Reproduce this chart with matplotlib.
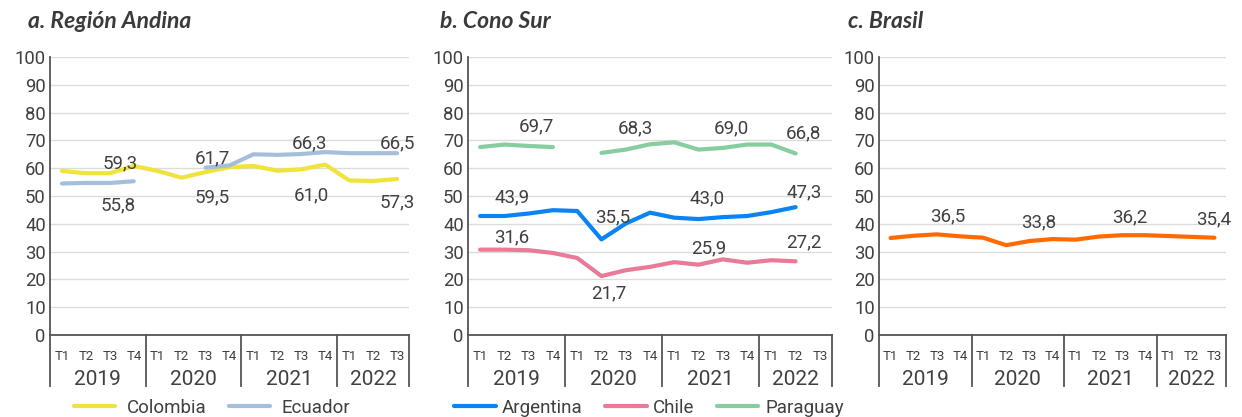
import matplotlib
matplotlib.use('Agg')
import matplotlib.pyplot as plt
import matplotlib.transforms as mtransforms
import numpy as np

# datos
quarters = ['T1', 'T2', 'T3', 'T4'] * 3 + ['T1', 'T2', 'T3']
years = ['2019', '2020', '2021', '2022']
year_len = [4, 4, 4, 3]

nan = np.nan
colombia = [59.0, 58.2, 58.2, 60.8, 59.0, 56.6, 58.6, 60.4, 60.8, 59.1, 59.6, 61.3, 55.6, 55.4, 56.1]
ecuador = [54.5, 54.7, 54.7, 55.3, nan, nan, 60.2, 61.0, 65.0, 64.8, 65.1, 65.8, 65.4, 65.4, 65.4]
argentina = [42.8, 42.8, 43.7, 44.9, 44.6, 34.4, 40.1, 44.0, 42.2, 41.7, 42.4, 42.8, 44.2, 46.0, nan]
chile = [30.7, 30.7, 30.5, 29.5, 27.7, 21.2, 23.3, 24.5, 26.2, 25.3, 27.2, 26.0, 26.9, 26.5, nan]
paraguay = [67.6, 68.5, 68.0, 67.6, nan, 65.5, 66.7, 68.6, 69.3, 66.7, 67.3, 68.5, 68.5, 65.3, nan]
brasil = [34.9, 35.7, 36.2, 35.5, 35.0, 32.3, 33.8, 34.5, 34.3, 35.4, 35.9, 35.9, 35.6, 35.3, 35.0]

# etiquetas anuales
lab_colombia = ['59,3', '59,5', '61,0', '57,3']
lab_ecuador = ['55,8', '61,7', '66,3', '66,5']
lab_argentina = ['43,9', '35,5', '43,0', '47,3']
lab_chile = ['31,6', '21,7', '25,9', '27,2']
lab_paraguay = ['69,7', '68,3', '69,0', '66,8']
lab_brasil = ['36,5', '33,8', '36,2', '35,4']

TXT = '#404040'
plt.rcParams['font.family'] = ['Roboto', 'DejaVu Sans']

fig = plt.figure(figsize=(12.42, 4.17), dpi=100)


def make_axes(left, width):
    ax = fig.add_axes([left / 1242, (417 - 335) / 417, width / 1242, 278 / 417])
    ax.set_xlim(-0.5, 14.5)
    ax.set_ylim(0, 100)
    ax.set_yticks(range(0, 101, 10))
    ax.tick_params(axis='y', length=0, labelsize=13.3, labelcolor=TXT, pad=3)
    ax.set_xticks(range(15))
    ax.set_xticklabels(quarters)
    ax.tick_params(axis='x', length=0, labelsize=9.5, labelcolor=TXT, pad=11)
    ax.grid(axis='y', color='#dcdcdc', lw=1)
    ax.set_axisbelow(True)
    for s in ['top', 'right']:
        ax.spines[s].set_visible(False)
    ax.spines['left'].set_color('#555555')
    ax.spines['left'].set_linewidth(1.3)
    ax.spines['bottom'].set_color('#555555')
    ax.spines['bottom'].set_linewidth(1.3)
    trans = mtransforms.blended_transform_factory(ax.transData, ax.transAxes)
    start = -0.5
    bounds = [start]
    for y, n in zip(years, year_len):
        ax.text(start + n / 2, -0.16, y, transform=trans, ha='center', va='center',
                fontsize=15, color=TXT)
        start += n
        bounds.append(start)
    for b in bounds:
        ax.plot([b, b], [0, -0.185], transform=trans, color='#555555', lw=1.3,
                clip_on=False)
    return ax


def add_labels(ax, labels, pos):
    for t, (x, y) in zip(labels, pos):
        ax.text(x, y, t, ha='center', va='center', fontsize=13.5, color=TXT)


x = np.arange(15)
lw = 3

# a. Región Andina
ax1 = make_axes(50, 359)
ax1.plot(x, colombia, color='#F0E339', lw=lw, label='Colombia', solid_capstyle='round')
ax1.plot(x, ecuador, color='#A5BFDB', lw=lw, label='Ecuador', solid_capstyle='round')
add_labels(ax1, lab_colombia, [(2.43, 61.8), (6.27, 49.5), (10.41, 50.3), (14.0, 47.7)])
add_labels(ax1, lab_ecuador, [(2.34, 46.7), (6.27, 63.6), (10.32, 69.0), (14.0, 69.0)])
ax1.legend(loc='center', bbox_to_anchor=(212 / 1242, 9 / 417), bbox_transform=fig.transFigure,
           ncol=2, frameon=False, fontsize=13.5, labelcolor=TXT, handlelength=2.2,
           handletextpad=0.6, columnspacing=1.2)

# b. Cono Sur
ax2 = make_axes(468, 364)
ax2.plot(x, argentina, color='#0A84F5', lw=lw, label='Argentina', solid_capstyle='round')
ax2.plot(x, chile, color='#E97A98', lw=lw, label='Chile', solid_capstyle='round')
ax2.plot(x, paraguay, color='#86CE9F', lw=lw, label='Paraguay', solid_capstyle='round')
add_labels(ax2, lab_paraguay, [(2.34, 75.1), (6.38, 74.4), (10.34, 74.4), (13.34, 72.6)])
add_labels(ax2, lab_argentina, [(1.31, 49.5), (5.47, 42.3), (9.35, 49.2), (13.34, 51.3)])
add_labels(ax2, lab_chile, [(1.31, 35.1), (5.31, 15.0), (9.43, 31.2), (13.34, 33.3)])
ax2.legend(loc='center', bbox_to_anchor=(649 / 1242, 9 / 417), bbox_transform=fig.transFigure,
           ncol=3, frameon=False, fontsize=13.5, labelcolor=TXT, handlelength=2.2,
           handletextpad=0.35, columnspacing=1.2)

# c. Brasil
ax3 = make_axes(879, 347)
ax3.plot(x, brasil, color='#FF6B00', lw=lw, solid_capstyle='round')
add_labels(ax3, lab_brasil, [(2.48, 42.7), (6.42, 40.5), (10.35, 42.3), (13.98, 41.6)])

# títulos
for xt, t in [(28, 'a. Región Andina'), (440, 'b. Cono Sur'), (848, 'c. Brasil')]:
    fig.text(xt / 1242, 1 - 22 / 417, t, ha='left', va='center', fontsize=16.5,
             fontweight='bold', fontstyle='italic', family='Lato', color='#3a3a3a')

fig.savefig('out.png', dpi=100)
